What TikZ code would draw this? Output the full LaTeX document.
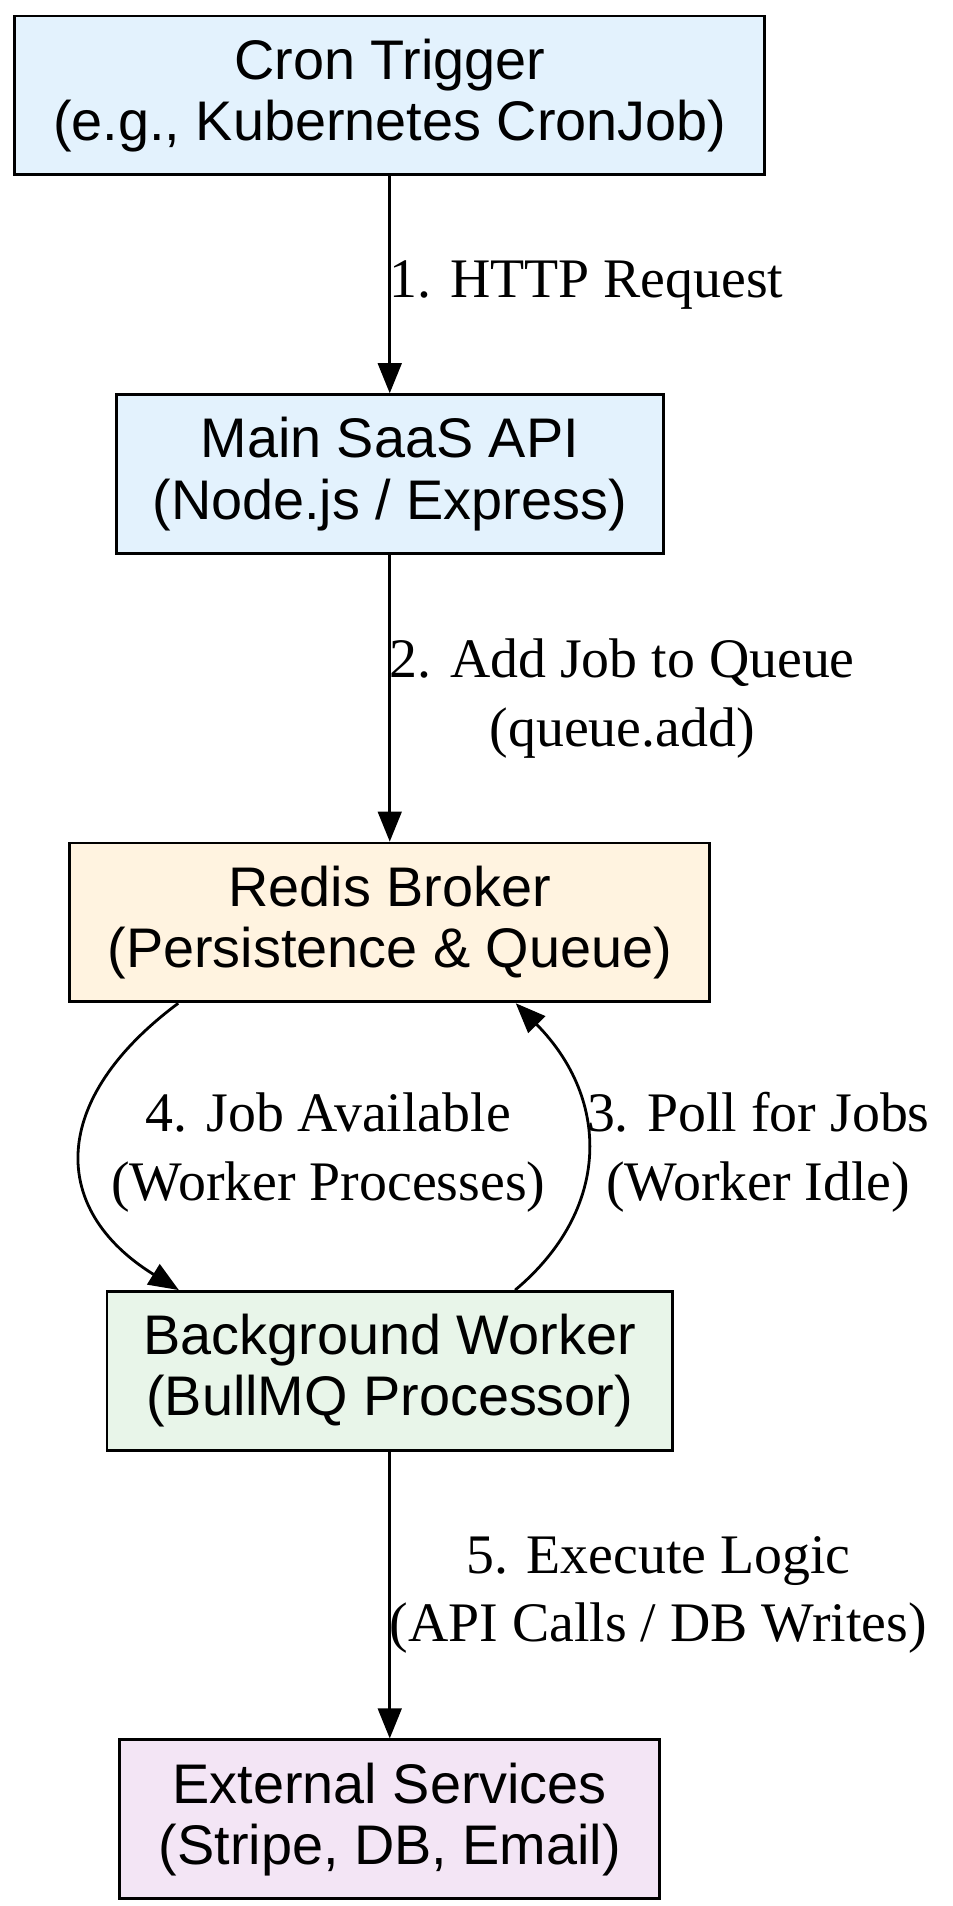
\documentclass[tikz,border=0pt]{standalone}
\usepackage{fontspec}
\setmainfont{Liberation Serif}
\newfontfamily\boxfont{Liberation Sans}
\usetikzlibrary{arrows.meta}
\definecolor{cronblue}{HTML}{E3F2FD}
\definecolor{redisorange}{HTML}{FFF3E0}
\definecolor{workergreen}{HTML}{E8F5E9}
\definecolor{extpurple}{HTML}{F3E5F5}
\begin{document}
\begin{tikzpicture}[x=0.02cm,y=-0.02cm,line width=1.3pt,>={Triangle[length=14pt,width=11pt]},
  box/.style={draw,line width=1.3pt,align=center,minimum height=2.6cm,inner sep=0pt,
    font=\boxfont\fontsize{26}{28.5}\selectfont},
  lbl/.style={font=\fontsize{26}{32}\selectfont,align=center}]
\useasboundingbox (0,0) rectangle (780,1560);

\node[box,fill=cronblue,minimum width=12.28cm] at (319,78) (cron) {Cron Trigger\\(e.g., Kubernetes CronJob)};
\node[box,fill=cronblue,minimum width=8.96cm] at (319,388) (api) {Main SaaS API\\(Node.js / Express)};
\node[box,fill=redisorange,minimum width=10.48cm] at (319,755) (redis) {Redis Broker\\(Persistence \& Queue)};
\node[box,fill=workergreen,minimum width=9.26cm] at (319,1122) (worker) {Background Worker\\(BullMQ Processor)};
\node[box,fill=extpurple,minimum width=8.84cm] at (319,1489) (ext) {External Services\\(Stripe, DB, Email)};

\draw[->] (cron) -- node[lbl,right,xshift=-4pt] {1. HTTP Request} (api);
\draw[->] (api) -- node[lbl,right,xshift=-4pt] {2. Add Job to Queue\\(queue.add)} (redis);
\draw[->] ([xshift=1.8cm]redis.south west) .. controls (40,900) and (40,990) .. node[lbl,pos=0.5,right,xshift=10pt] {4. Job Available\\(Worker Processes)} ([xshift=1.2cm]worker.north west);
\draw[->] ([xshift=-2.6cm]worker.north east) .. controls (500,990) and (500,900) .. node[lbl,pos=0.5,right,xshift=-4pt] {3. Poll for Jobs\\(Worker Idle)} ([xshift=-3.2cm]redis.south east);
\draw[->] (worker) -- node[lbl,right,xshift=-4pt] {5. Execute Logic\\(API Calls / DB Writes)} (ext);
\end{tikzpicture}
\end{document}
